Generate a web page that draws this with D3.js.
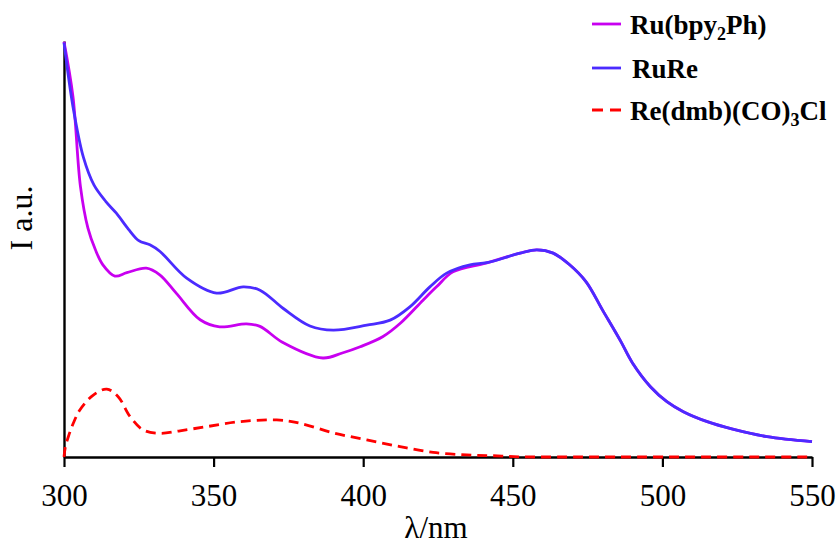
<!DOCTYPE html>
<html><head><meta charset="utf-8">
<script src="https://cdn.jsdelivr.net/npm/d3@7"></script>
<style>body{margin:0;background:#fff}svg{display:block}text{font-family:'Liberation Serif','Times New Roman',serif}</style>
</head><body>
<svg id="c" width="838" height="549"></svg>
<script>
// Ru(bpy2Ph) emission (a.u.)
const ruX = [300,303,305.5,308,310.5,313,317,321,327.5,332,337.5,345.5,352,361,365.5,373,386.5,393,399,406.5,412.5,420,424.5,430,441,452.5,458,463.5,469,474.5,480,486,490,496,501.5,507,515,523.5,535,550];
const ruY = [99.8,86.6,65.0,55.0,49.8,46.2,43.5,44.3,45.4,43.8,39.4,33.0,31.3,32.0,31.4,27.6,23.8,25.0,26.5,28.9,32.2,37.7,40.9,44.5,46.6,49.0,49.8,49.0,46.2,42.1,35.3,27.9,22.6,16.9,13.3,10.9,8.5,6.7,4.9,3.7];
// RuRe
const rrX = [300,303,306.5,310,314,317.5,321.5,325,328.7,332.1,341,351,359.9,365.5,373.3,382.2,390,401.2,409,415.6,422.3,427.9,435.7,441.3,452.4,458,463.5,469,474.5,480,486,490,496,501.5,507,515,523.5,535,550];
const rrY = [99.6,84.2,72.0,65.4,61.4,58.6,54.8,52.0,51.0,49.4,43.0,39.4,40.9,40.1,35.7,31.5,30.5,31.7,32.9,36.1,40.9,44.2,46.2,46.7,49.0,49.8,49.0,46.2,42.1,35.3,27.9,22.6,16.9,13.3,10.9,8.5,6.7,4.9,3.7];
// Re(dmb)(CO)3Cl
const reX = [300,300.4,301.5,303.1,305.3,309.8,314.3,318.1,322.1,326.5,332.1,338.8,347.7,358.8,371.1,378.9,390,401.2,412.3,423.4,434.6,443.5,452,470,500,550];
const reY = [0,2.2,5.0,8.1,11.3,14.9,16.3,14.5,9.7,6.5,5.7,6.3,7.3,8.5,8.9,8.1,5.8,4.1,2.5,1.1,0.5,0.3,0.05,0,0,0];
const xTicks = [300,350,400,450,500,550];
const colors = ["#C800F0","#4B2BFF","#FF0000"];

const svg = d3.select("#c");
const x = d3.scaleLinear().domain([300,550]).range([64,812]);
const y = d3.scaleLinear().domain([0,100]).range([457,41]);

const line = d3.line().x(d=>x(d[0])).y(d=>y(d[1])).curve(d3.curveCatmullRom.alpha(0.5));
const zip = (a,b)=>a.map((v,i)=>[v,b[i]]);

// axes
const xa = svg.append("g").attr("transform","translate(0,457)")
  .call(d3.axisBottom(x).tickValues(xTicks).tickSize(10).tickSizeOuter(0).tickPadding(17));
xa.attr("font-family",null).attr("font-size",null);
xa.select(".domain").attr("stroke","#000").attr("stroke-width",2.4);
xa.selectAll(".tick line").attr("stroke","#000").attr("stroke-width",2.2);
xa.selectAll(".tick text").style("font-family","'Liberation Serif',serif").style("font-size","31px").attr("fill","#000");

const ya = svg.append("g").attr("transform","translate(64,0)")
  .call(d3.axisLeft(y).tickValues([]).tickSizeOuter(0));
ya.select(".domain").attr("stroke","#000").attr("stroke-width",2.4);

svg.append("text").attr("x",436).attr("y",538).attr("text-anchor","middle")
  .style("font-size","31px").text("λ/nm");
svg.append("text").attr("transform","translate(32,218) rotate(-90)").attr("text-anchor","middle")
  .style("font-size","32px").text("I a.u.");

// series
svg.append("path").attr("d",line(zip(ruX,ruY))).attr("fill","none").attr("stroke",colors[0]).attr("stroke-width",2.8);
svg.append("path").attr("d",line(zip(rrX,rrY))).attr("fill","none").attr("stroke",colors[1]).attr("stroke-width",2.8);
svg.append("path").attr("d",line(zip(reX,reY))).attr("fill","none").attr("stroke",colors[2]).attr("stroke-width",2.8).attr("stroke-dasharray","10,6");

// legend
const lg = svg.append("g").attr("font-weight","bold").style("font-size","27px");
const rows = [24,68,110];
rows.forEach((ry,i)=>{
  lg.append("line").attr("x1",592).attr("x2",621).attr("y1",ry).attr("y2",ry)
    .attr("stroke",colors[i]).attr("stroke-width",2.8)
    .attr("stroke-dasharray", i===2 ? "11,7" : null);
});
const t1 = lg.append("text").attr("x",630).attr("y",34);
t1.append("tspan").text("Ru(bpy");
t1.append("tspan").style("font-size","18px").attr("dy",6).text("2");
t1.append("tspan").attr("dy",-6).text("Ph)");
lg.append("text").attr("x",632).attr("y",78).text("RuRe");
const t3 = lg.append("text").attr("x",630).attr("y",120);
t3.append("tspan").text("Re(dmb)(CO)");
t3.append("tspan").style("font-size","18px").attr("dy",6).text("3");
t3.append("tspan").attr("dy",-6).text("Cl");
</script>
</body></html>
